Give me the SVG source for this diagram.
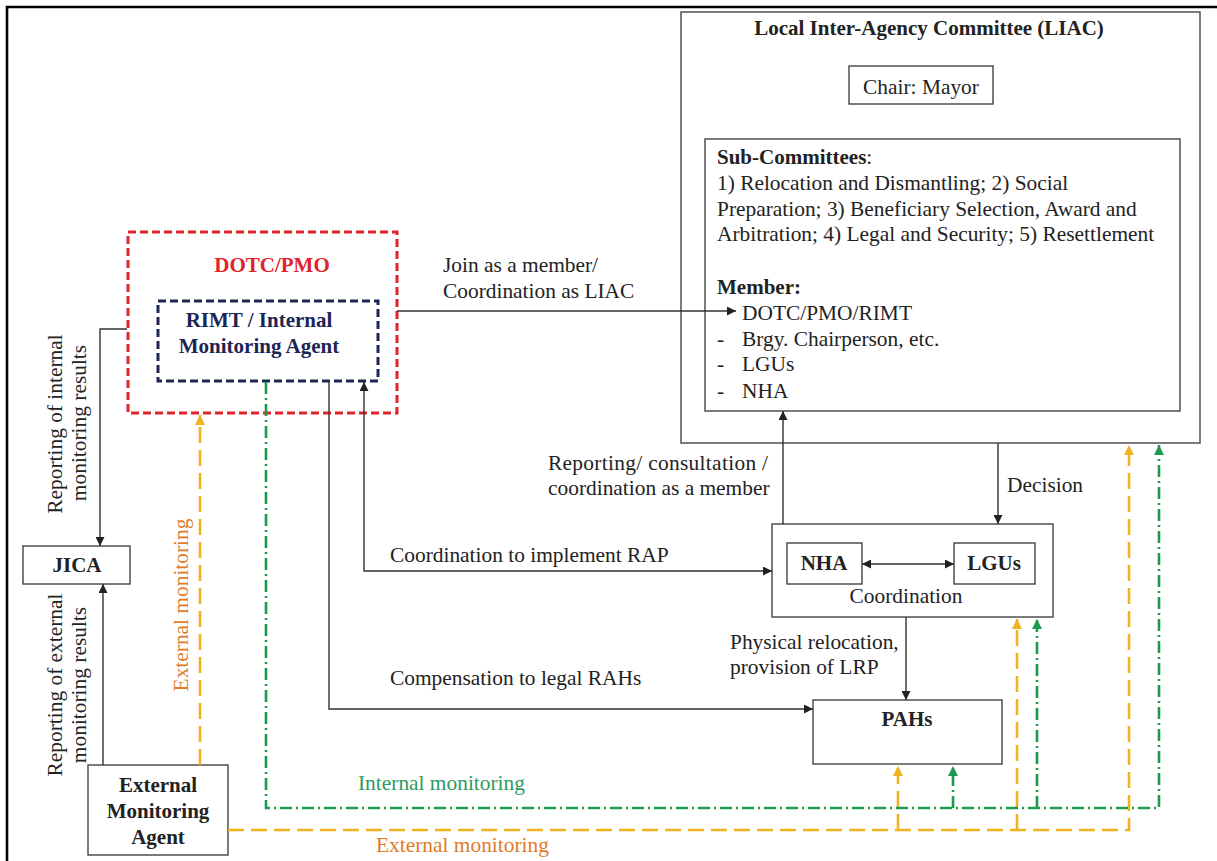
<svg xmlns="http://www.w3.org/2000/svg" width="1217" height="861" viewBox="0 0 1217 861">
<style>
text{font-family:"Liberation Serif","Times New Roman",serif;font-size:21.4px;fill:#222}
.b{font-weight:bold;font-size:21px}
.box{fill:#fff;stroke:#444;stroke-width:1.4}
.ln{fill:none;stroke:#333;stroke-width:1.4}
.yl{fill:none;stroke:#F0B21E;stroke-width:2.6;stroke-dasharray:16,7}
.gr{fill:none;stroke:#1E9A4E;stroke-width:2.6;stroke-dasharray:12,4,2,4}
.c{text-anchor:middle}
</style>
<defs>
<marker id="ab" viewBox="0 0 10 10" refX="10" refY="5" markerWidth="9" markerHeight="9" markerUnits="userSpaceOnUse" orient="auto-start-reverse"><path d="M0,0 L10,5 L0,10 z" fill="#222"/></marker>
<marker id="ay" viewBox="0 0 10 10" refX="10" refY="5" markerWidth="10" markerHeight="10" markerUnits="userSpaceOnUse" orient="auto"><path d="M0,0 L10,5 L0,10 z" fill="#F0B21E"/></marker>
<marker id="ag" viewBox="0 0 10 10" refX="10" refY="5" markerWidth="10" markerHeight="10" markerUnits="userSpaceOnUse" orient="auto"><path d="M0,0 L10,5 L0,10 z" fill="#1E9A4E"/></marker>
</defs>
<rect width="1217" height="861" fill="#fff"/>
<path d="M7,861 V7 H1217" fill="none" stroke="#000" stroke-width="2.6"/>

<g id="liac">
<rect class="box" x="681" y="12" width="519" height="431"/>
<text class="b c" x="929" y="35">Local Inter-Agency Committee (LIAC)</text>
</g>
<g id="chair">
<rect class="box" x="849" y="66" width="144" height="38"/>
<text class="c" x="921" y="94">Chair: Mayor</text>
</g>
<g id="subcommittees">
<rect class="box" x="705" y="139" width="475" height="272"/>
<text x="717" y="164"><tspan class="b">Sub-Committees</tspan>:</text>
<text x="717" y="190">1) Relocation and Dismantling;  2) Social</text>
<text x="717" y="216">Preparation; 3) Beneficiary Selection, Award and</text>
<text x="717" y="241">Arbitration; 4) Legal and Security;  5) Resettlement</text>
<text class="b" x="717" y="294">Member:</text>
<text x="742" y="320">DOTC/PMO/RIMT</text>
<text x="717" y="346">-</text><text x="742" y="346">Brgy. Chairperson, etc.</text>
<text x="717" y="371">-</text><text x="742" y="371">LGUs</text>
<text x="717" y="398">-</text><text x="742" y="398">NHA</text>
</g>
<g id="dotc-pmo">
<rect x="128" y="232" width="269" height="181" fill="none" stroke="#E3232B" stroke-width="3" stroke-dasharray="8,4"/>
<text class="b c" x="272" y="272" style="fill:#E3232B">DOTC/PMO</text>
</g>
<g id="rimt">
<rect x="158" y="301" width="220" height="80" fill="none" stroke="#1C2554" stroke-width="3" stroke-dasharray="8,4"/>
<text class="b c" x="259" y="327" style="fill:#1C2554">RIMT / Internal</text>
<text class="b c" x="259" y="353" style="fill:#1C2554">Monitoring  Agent</text>
</g>
<g id="jica">
<rect class="box" x="23" y="546" width="107" height="38"/>
<text class="b c" x="77" y="572">JICA</text>
</g>
<g id="ema">
<rect class="box" x="88" y="765" width="140" height="90"/>
<text class="b c" x="158" y="792">External</text>
<text class="b c" x="158" y="818">Monitoring</text>
<text class="b c" x="158" y="844">Agent</text>
</g>
<g id="coordination">
<rect class="box" x="772" y="524" width="281" height="93"/>
<text class="c" x="906" y="603">Coordination</text>
</g>
<g id="nha">
<rect class="box" x="787" y="543" width="75" height="41"/>
<text class="b c" x="824" y="570">NHA</text>
</g>
<g id="lgus">
<rect class="box" x="954" y="543" width="81" height="41"/>
<text class="b c" x="994" y="570">LGUs</text>
</g>
<g id="pahs">
<rect class="box" x="813" y="700" width="189" height="64"/>
<text class="b c" x="907" y="726">PAHs</text>
</g>

<g id="connectors">
<path class="yl" d="M200,765 V415" marker-end="url(#ay)"/>
<path class="yl" d="M228,830 H1129 V445" marker-end="url(#ay)"/>
<path class="yl" d="M898,830 V766" marker-end="url(#ay)"/>
<path class="yl" d="M1017,830 V619" marker-end="url(#ay)"/>
<path class="gr" d="M266,382 V808 H1159 V445" marker-end="url(#ag)"/>
<path class="gr" d="M953,808 V766" marker-end="url(#ag)"/>
<path class="gr" d="M1037,808 V619" marker-end="url(#ag)"/>
<path class="ln" d="M127,329 H100 V546" marker-end="url(#ab)"/>
<path class="ln" d="M103,765 V584" marker-end="url(#ab)"/>
<path class="ln" d="M397,311 H736" marker-end="url(#ab)"/>
<path class="ln" d="M329,381 V709 H813" marker-end="url(#ab)"/>
<path class="ln" d="M364,382 V571 H772" marker-start="url(#ab)" marker-end="url(#ab)"/>
<path class="ln" d="M783,524 V411" marker-end="url(#ab)"/>
<path class="ln" d="M998,443 V524" marker-end="url(#ab)"/>
<path class="ln" d="M862,564 H954" marker-start="url(#ab)" marker-end="url(#ab)"/>
<path class="ln" d="M906,617 V700" marker-end="url(#ab)"/>
</g>

<g id="labels">
<text x="443" y="272">Join as a member/</text>
<text x="443" y="298">Coordination  as LIAC</text>
<text x="548" y="470" textLength="220" lengthAdjust="spacing">Reporting/ consultation /</text>
<text x="548" y="495">coordination as a member</text>
<text x="1007" y="492">Decision</text>
<text x="390" y="562">Coordination to implement  RAP</text>
<text x="390" y="685">Compensation  to legal RAHs</text>
<text x="730" y="649">Physical relocation,</text>
<text x="730" y="674">provision of LRP</text>
<text x="358" y="790" style="fill:#2E9A5E">Internal monitoring</text>
<text x="376" y="852" style="fill:#E07B28">External monitoring</text>
<text class="c" transform="translate(188,605) rotate(-90)" style="fill:#E07B28">External monitoring</text>
<text class="c" transform="translate(62,424) rotate(-90)">Reporting of internal</text>
<text class="c" transform="translate(86,423) rotate(-90)">monitoring  results</text>
<text class="c" transform="translate(62,685) rotate(-90)">Reporting of external</text>
<text class="c" transform="translate(86,685) rotate(-90)">monitoring  results</text>
</g>
</svg>
